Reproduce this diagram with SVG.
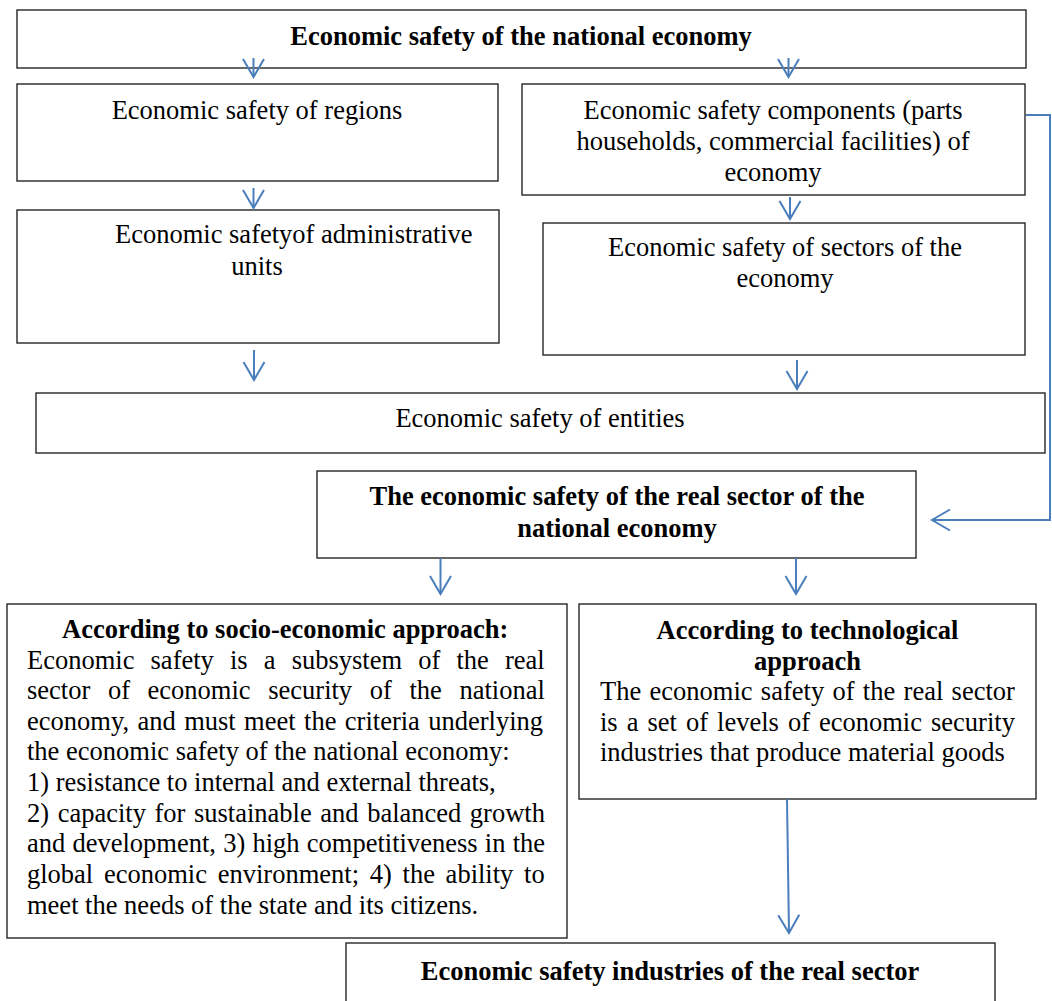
<svg xmlns="http://www.w3.org/2000/svg" width="1052" height="1001" viewBox="0 0 1052 1001">
<style>
.box{fill:#fff;stroke:#262626;stroke-width:1.4}
.t{font-family:"Liberation Serif","Times New Roman",serif;font-size:26.5px;fill:#000}
.b{font-weight:bold}
.m{text-anchor:middle}
.c{fill:none;stroke:#4a7ebb;stroke-width:2}
</style>
<defs>
<marker id="arr" markerUnits="userSpaceOnUse" viewBox="-2 -12 22 24" markerWidth="22" markerHeight="24" refX="18" refY="0" orient="auto">
<path d="M0,-10.5 L18,0 L0,10.5" fill="none" stroke="#4a7ebb" stroke-width="2"/>
</marker>
</defs>
<rect width="1052" height="1001" fill="#fff"/>
<g id="n1"><rect class="box" x="17" y="10" width="1009" height="58"/>
<text class="t b m" x="521" y="45">Economic safety of the national economy</text></g>
<g id="n2"><rect class="box" x="17" y="84" width="481" height="97"/>
<text class="t m" x="257" y="119">Economic safety of regions</text></g>
<g id="n3"><rect class="box" x="522" y="84" width="503" height="111"/>
<text class="t m" x="773" y="119">Economic safety components (parts</text>
<text class="t m" x="773" y="150">households, commercial facilities) of</text>
<text class="t m" x="773" y="181">economy</text></g>
<g id="n4"><rect class="box" x="17" y="210" width="482" height="133"/>
<text class="t" x="115" y="243">Economic safetyof administrative</text>
<text class="t m" x="257" y="275">units</text></g>
<g id="n5"><rect class="box" x="543" y="223" width="482" height="132"/>
<text class="t m" x="785" y="256">Economic safety of sectors of the</text>
<text class="t m" x="785" y="287">economy</text></g>
<g id="n6"><rect class="box" x="36" y="393" width="1009" height="60"/>
<text class="t m" x="540" y="427">Economic safety of entities</text></g>
<g id="n7"><rect class="box" x="317" y="471" width="599" height="87"/>
<text class="t b m" x="617" y="505">The economic safety of the real sector of the</text>
<text class="t b m" x="617" y="537">national economy</text></g>
<g id="n8"><rect class="box" x="7" y="604" width="560" height="334"/>
<text class="t b" x="62" y="638">According to socio-economic approach:</text>
<text class="t" x="27" y="668.5" word-spacing="9.5">Economic safety is a subsystem of the real</text>
<text class="t" x="27" y="699" word-spacing="11">sector of economic security of the national</text>
<text class="t" x="27" y="729.5" word-spacing="1.8">economy, and must meet the criteria underlying</text>
<text class="t" x="27" y="760">the economic safety of the national economy:</text>
<text class="t" x="27" y="791">1) resistance to internal and external threats,</text>
<text class="t" x="27" y="821.5" word-spacing="1.95">2) capacity for sustainable and balanced growth</text>
<text class="t" x="27" y="852" word-spacing="0.6">and development, 3) high competitiveness in the</text>
<text class="t" x="27" y="883" word-spacing="4.1">global economic environment; 4) the ability to</text>
<text class="t" x="27" y="913.5">meet the needs of the state and its citizens.</text></g>
<g id="n9"><rect class="box" x="579" y="604" width="457" height="195"/>
<text class="t b m" x="807.5" y="639">According to technological</text>
<text class="t b m" x="807.5" y="669.5">approach</text>
<text class="t" x="600" y="700" word-spacing="1.7">The economic safety of the real sector</text>
<text class="t" x="600" y="730.5" word-spacing="2.4">is a set of levels of economic security</text>
<text class="t" x="600" y="761">industries that produce material goods</text></g>
<g id="n10"><rect class="box" x="346" y="943" width="649" height="70"/>
<text class="t b m" x="670" y="980">Economic safety industries of the real sector</text></g>
<g id="connectors">
<path class="c" d="M253.5,58 V77" marker-end="url(#arr)"/>
<path class="c" d="M788.5,58 V77" marker-end="url(#arr)"/>
<path class="c" d="M253.5,188 V208" marker-end="url(#arr)"/>
<path class="c" d="M790,197 V219" marker-end="url(#arr)"/>
<path class="c" d="M254,350 V380" marker-end="url(#arr)"/>
<path class="c" d="M797,360 V389" marker-end="url(#arr)"/>
<path class="c" d="M1026,115 H1050 V520 H932" marker-end="url(#arr)"/>
<path class="c" d="M440.5,558 V594" marker-end="url(#arr)"/>
<path class="c" d="M796,558 V594" marker-end="url(#arr)"/>
<path class="c" d="M787,799 L789,933" marker-end="url(#arr)"/>
</g>
</svg>
